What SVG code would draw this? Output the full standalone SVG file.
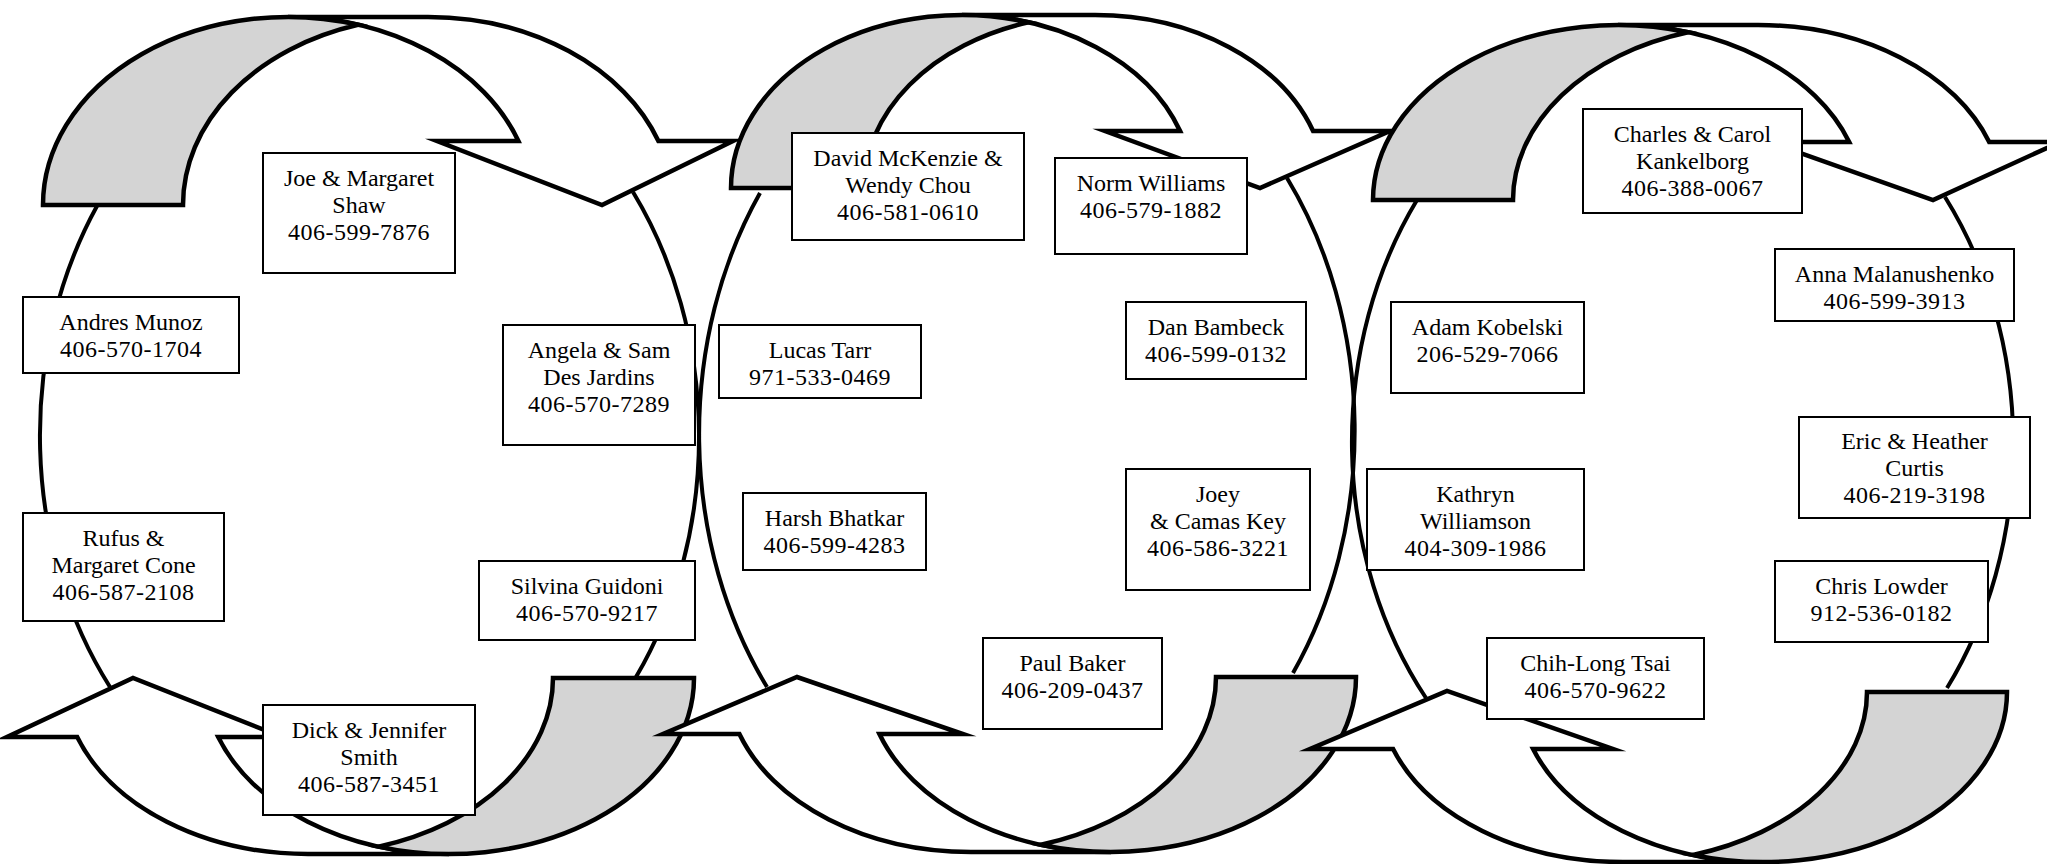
<svg xmlns="http://www.w3.org/2000/svg" width="2047" height="864" viewBox="0 0 2047 864">
<style>
.band{fill:#fff;stroke:#000;stroke-width:4.5;stroke-linejoin:miter;stroke-miterlimit:10}
.back{fill:#d4d4d4;stroke:#000;stroke-width:4.5;stroke-linejoin:miter;stroke-miterlimit:10}
.ring{fill:none;stroke:#000;stroke-width:4}
.box rect{fill:#fff;stroke:#000;stroke-width:2}
.box text{font-family:"Liberation Serif","Times New Roman",serif;font-size:24px;text-anchor:middle;fill:#000}
.box .ph{letter-spacing:0.5px}
</style>
<rect width="2047" height="864" fill="#fff"/>
<g id="connectors">
  <g id="rings">
    <path class="ring" d="M 97 206 A 329.5 408 0 0 0 110 687"/>
    <path class="ring" d="M 633 192 A 329.5 408 0 0 1 636 677"/>
    <path class="ring" d="M 760 193 A 327.5 415 0 0 0 767 687"/>
    <path class="ring" d="M 1287 178 A 327.5 415 0 0 1 1293 673"/>
    <path class="ring" d="M 1417 200 A 330.5 406 0 0 0 1426 698"/>
    <path class="ring" d="M 1945 197 A 330.5 406 0 0 1 1947 688"/>
  </g>
  <g id="top-arrows">
    <path class="band" d="M 518.4 141 A 245 188 0 0 0 288 17 L 428 17 A 245 188 0 0 1 658.4 141 L 733 141 L 602 205 L 437 141 Z"/>
    <path class="back" d="M 43 205 A 245 188 0 0 1 358 24.8 A 245 188 0 0 0 183 205 Z"/>
    <path class="band" d="M 1180.1 131 A 231 173 0 0 0 962 15 L 1095 15 A 231 173 0 0 1 1313.1 131 L 1390 131 L 1260 188 L 1105 131 Z"/>
    <path class="back" d="M 731 188 A 231 173 0 0 1 1028.5 22.3 A 231 173 0 0 0 864 188 Z"/>
    <path class="band" d="M 1849.2 142 A 245 175 0 0 0 1618 25 L 1758 25 A 245 175 0 0 1 1989.2 142 L 2060 142 L 1933 200 L 1769 142 Z"/>
    <path class="back" d="M 1373 200 A 245 175 0 0 1 1688 32.3 A 245 175 0 0 0 1513 200 Z"/>
  </g>
  <g id="bottom-arrows">
    <path class="band" d="M 218.2 737 A 245 176 0 0 0 449 854 L 308 854 A 245 176 0 0 1 77.2 737 L 7 737 L 133 678 L 282 737 Z"/>
    <path class="back" d="M 694 678 A 245 176 0 0 1 378.5 846.6 A 245 176 0 0 0 553 678 Z"/>
    <path class="band" d="M 879.4 734 A 245 175 0 0 0 1111 852 L 971 852 A 245 175 0 0 1 739.4 734 L 663 734 L 797 677 L 963 734 Z"/>
    <path class="back" d="M 1356 677 A 245 175 0 0 1 1041 844.7 A 245 175 0 0 0 1216 677 Z"/>
    <path class="band" d="M 1533.1 749 A 244 170 0 0 0 1763 862 L 1623 862 A 244 170 0 0 1 1393.1 749 L 1310 749 L 1447 691 L 1613 749 Z"/>
    <path class="back" d="M 2007 692 A 244 170 0 0 1 1693 854.9 A 244 170 0 0 0 1867 692 Z"/>
  </g>
</g>
<g id="node-joe-shaw" class="box"><rect x="263" y="153" width="192" height="120"/><text x="359" y="186">Joe &amp; Margaret</text><text x="359" y="213">Shaw</text><text class="ph" x="359" y="240">406-599-7876</text></g>
<g id="node-andres-munoz" class="box"><rect x="23" y="297" width="216" height="76"/><text x="131" y="330">Andres Munoz</text><text class="ph" x="131" y="357">406-570-1704</text></g>
<g id="node-angela-sam" class="box"><rect x="503" y="325" width="192" height="120"/><text x="599" y="358">Angela &amp; Sam</text><text x="599" y="385">Des Jardins</text><text class="ph" x="599" y="412">406-570-7289</text></g>
<g id="node-rufus-cone" class="box"><rect x="23" y="513" width="201" height="108"/><text x="123.5" y="546">Rufus &amp;</text><text x="123.5" y="573">Margaret Cone</text><text class="ph" x="123.5" y="600">406-587-2108</text></g>
<g id="node-silvina" class="box"><rect x="479" y="561" width="216" height="79"/><text x="587" y="594">Silvina Guidoni</text><text class="ph" x="587" y="621">406-570-9217</text></g>
<g id="node-dick-smith" class="box"><rect x="263" y="705" width="212" height="110"/><text x="369" y="738">Dick &amp; Jennifer</text><text x="369" y="765">Smith</text><text class="ph" x="369" y="792">406-587-3451</text></g>
<g id="node-david-wendy" class="box"><rect x="792" y="133" width="232" height="107"/><text x="908" y="166">David McKenzie &amp;</text><text x="908" y="193">Wendy Chou</text><text class="ph" x="908" y="220">406-581-0610</text></g>
<g id="node-norm" class="box"><rect x="1055" y="158" width="192" height="96"/><text x="1151" y="191">Norm Williams</text><text class="ph" x="1151" y="218">406-579-1882</text></g>
<g id="node-lucas" class="box"><rect x="719" y="325" width="202" height="73"/><text x="820" y="358">Lucas Tarr</text><text class="ph" x="820" y="385">971-533-0469</text></g>
<g id="node-dan" class="box"><rect x="1126" y="302" width="180" height="77"/><text x="1216" y="335">Dan Bambeck</text><text class="ph" x="1216" y="362">406-599-0132</text></g>
<g id="node-harsh" class="box"><rect x="743" y="493" width="183" height="77"/><text x="834.5" y="526">Harsh Bhatkar</text><text class="ph" x="834.5" y="553">406-599-4283</text></g>
<g id="node-joey-camas" class="box"><rect x="1126" y="469" width="184" height="121"/><text x="1218" y="502">Joey</text><text x="1218" y="529">&amp; Camas Key</text><text class="ph" x="1218" y="556">406-586-3221</text></g>
<g id="node-paul" class="box"><rect x="983" y="638" width="179" height="91"/><text x="1072.5" y="671">Paul Baker</text><text class="ph" x="1072.5" y="698">406-209-0437</text></g>
<g id="node-charles-carol" class="box"><rect x="1583" y="109" width="219" height="104"/><text x="1692.5" y="142">Charles &amp; Carol</text><text x="1692.5" y="169">Kankelborg</text><text class="ph" x="1692.5" y="196">406-388-0067</text></g>
<g id="node-adam" class="box"><rect x="1391" y="302" width="193" height="91"/><text x="1487.5" y="335">Adam Kobelski</text><text class="ph" x="1487.5" y="362">206-529-7066</text></g>
<g id="node-anna" class="box"><rect x="1775" y="249" width="239" height="72"/><text x="1894.5" y="282">Anna Malanushenko</text><text class="ph" x="1894.5" y="309">406-599-3913</text></g>
<g id="node-eric-heather" class="box"><rect x="1799" y="417" width="231" height="101"/><text x="1914.5" y="449">Eric &amp; Heather</text><text x="1914.5" y="476">Curtis</text><text class="ph" x="1914.5" y="503">406-219-3198</text></g>
<g id="node-kathryn" class="box"><rect x="1367" y="469" width="217" height="101"/><text x="1475.5" y="502">Kathryn</text><text x="1475.5" y="529">Williamson</text><text class="ph" x="1475.5" y="556">404-309-1986</text></g>
<g id="node-chris" class="box"><rect x="1775" y="561" width="213" height="81"/><text x="1881.5" y="594">Chris Lowder</text><text class="ph" x="1881.5" y="621">912-536-0182</text></g>
<g id="node-chih-long" class="box"><rect x="1487" y="638" width="217" height="81"/><text x="1595.5" y="671">Chih-Long Tsai</text><text class="ph" x="1595.5" y="698">406-570-9622</text></g>
</svg>
